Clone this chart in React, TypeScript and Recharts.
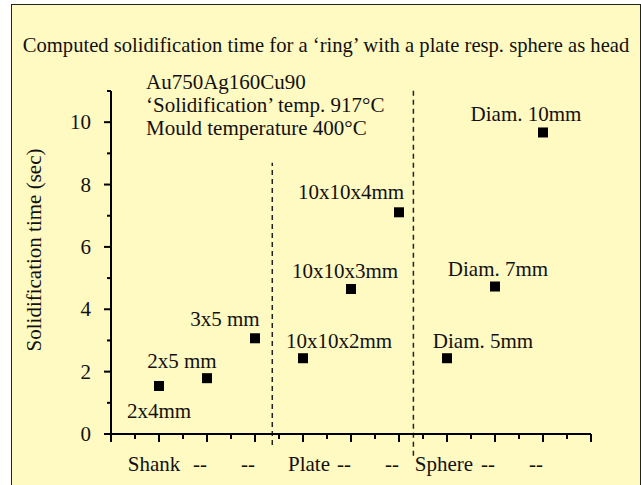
import React from 'react';
import {
  ScatterChart,
  Scatter,
  XAxis,
  YAxis,
  ReferenceLine,
} from 'recharts';

const categories = ['Shank', '--', '--', 'Plate', '--', '--', 'Sphere', '--', '--'];
const pointLabels = [
  '2x4mm',
  '2x5 mm',
  '3x5 mm',
  '10x10x2mm',
  '10x10x3mm',
  '10x10x4mm',
  'Diam. 5mm',
  'Diam. 7mm',
  'Diam. 10mm',
];
const solidificationTimes = [1.54, 1.79, 3.07, 2.43, 4.65, 7.11, 2.43, 4.73, 9.67];
const yTicks = [0, 1, 2, 3, 4, 5, 6, 7, 8, 9, 10, 11];
const xTicks = [0, 0.5, 1, 1.5, 2, 2.5, 3, 3.5, 4, 4.5, 5, 5.5, 6, 6.5, 7, 7.5, 8, 8.5, 9, 9.5, 10];
const notes = ['Au750Ag160Cu90', '\u2018Solidification\u2019 temp. 917\u00b0C', 'Mould temperature 400\u00b0C'];

// layout tweaks for the text around the marks (pixels)
const labelOffsets = [
  [0, 25],
  [-25, -17],
  [-30, -19],
  [36, -17],
  [-6, -18],
  [-48, -20],
  [36, -17],
  [3, -18],
  [-17, -18],
];
const categoryShift = [-5, -7, -7, 6, -7, -7, -3, -7, -7];

const FONT = '"Liberation Serif", "Times New Roman", serif';
const FS = 21;
const BG = '#FFF9C2';

const data = solidificationTimes.map((t, i) => ({
  x: i + 1,
  y: t,
  label: pointLabels[i],
  i,
}));

function YTick({ x, y, payload }: any) {
  const v = payload.value;
  const major = v % 2 === 0;
  return (
    <g>
      <line x1={x} x2={x - (major ? 7 : 4)} y1={y} y2={y} stroke="#000" strokeWidth={2} />
      {major && (
        <text
          x={x - 20}
          y={y}
          textAnchor="end"
          dominantBaseline="central"
          fontFamily={FONT}
          fontSize={FS}
          fill="#111"
        >
          {v}
        </text>
      )}
    </g>
  );
}

function XTick({ x, y, payload }: any) {
  const v = payload.value;
  const whole = Number.isInteger(v);
  const idx = v - 1;
  const label = whole && idx >= 0 && idx < categories.length ? categories[idx] : null;
  return (
    <g>
      <line x1={x} x2={x} y1={y} y2={y + (whole ? 8 : 5)} stroke="#000" strokeWidth={2} />
      {label && (
        <text
          x={x + categoryShift[idx]}
          y={y + 37}
          textAnchor="middle"
          fontFamily={FONT}
          fontSize={FS}
          fill="#111"
        >
          {label}
        </text>
      )}
    </g>
  );
}

function SquareMark(props: any) {
  const { cx, cy, payload } = props;
  const [dx, dy] = labelOffsets[payload.i];
  return (
    <g>
      <rect x={cx - 5} y={cy - 5} width={10} height={10} fill="#000" />
      <text
        x={cx + dx}
        y={cy + dy}
        textAnchor="middle"
        dominantBaseline="central"
        fontFamily={FONT}
        fontSize={FS}
        fill="#111"
      >
        {payload.label}
      </text>
    </g>
  );
}

export default function App() {
  return (
    <div style={{ position: 'absolute', left: 0, top: 0, width: 641, height: 485, overflow: 'hidden' }}>
      <div
        style={{
          position: 'absolute',
          left: 11,
          top: 4,
          width: 630,
          height: 490,
          boxSizing: 'border-box',
          background: BG,
          borderLeft: '1px solid #222',
          borderTop: '1px solid #222',
          borderRight: '1px solid #222',
        }}
      />
      <div style={{ position: 'absolute', left: 0, top: 0 }}>
        <ScatterChart
          width={641}
          height={485}
          margin={{ top: 91, right: 50, bottom: 50, left: 110 }}
        >
          <XAxis
            type="number"
            dataKey="x"
            domain={[0, 10]}
            ticks={xTicks}
            interval={0}
            height={1}
            tickSize={0}
            tickMargin={0}
            tickLine={false}
            tick={<XTick />}
            axisLine={{ stroke: '#000', strokeWidth: 2 }}
          />
          <YAxis
            type="number"
            dataKey="y"
            domain={[0, 11]}
            ticks={yTicks}
            interval={0}
            width={1}
            tickSize={0}
            tickMargin={0}
            tickLine={false}
            tick={<YTick />}
            axisLine={{ stroke: '#000', strokeWidth: 2 }}
          />
          <ReferenceLine
            segment={[
              { x: 3.36, y: -0.35 },
              { x: 3.36, y: 8.7 },
            ]}
            ifOverflow="visible"
            stroke="#222"
            strokeWidth={1.5}
            strokeDasharray="5 4"
          />
          <ReferenceLine
            segment={[
              { x: 6.3, y: -0.7 },
              { x: 6.3, y: 11.13 },
            ]}
            ifOverflow="visible"
            stroke="#222"
            strokeWidth={1.5}
            strokeDasharray="5 4"
          />
          <Scatter data={data} shape={<SquareMark />} isAnimationActive={false} />
        </ScatterChart>
      </div>
      <svg
        width={641}
        height={485}
        style={{ position: 'absolute', left: 0, top: 0, pointerEvents: 'none' }}
      >
        <text x={326} y={52} textAnchor="middle" fontFamily={FONT} fontSize={20.6} fill="#111">
          Computed solidification time for a {'\u2018'}ring{'\u2019'} with a plate resp. sphere as head
        </text>
        {notes.map((n, i) => (
          <text key={i} x={146} y={89 + i * 23} fontFamily={FONT} fontSize={FS} fill="#111">
            {n}
          </text>
        ))}
        <text
          x={34}
          y={250}
          transform="rotate(-90 34 250)"
          textAnchor="middle"
          dominantBaseline="central"
          fontFamily={FONT}
          fontSize={FS}
          fill="#111"
        >
          Solidification time (sec)
        </text>
      </svg>
    </div>
  );
}
